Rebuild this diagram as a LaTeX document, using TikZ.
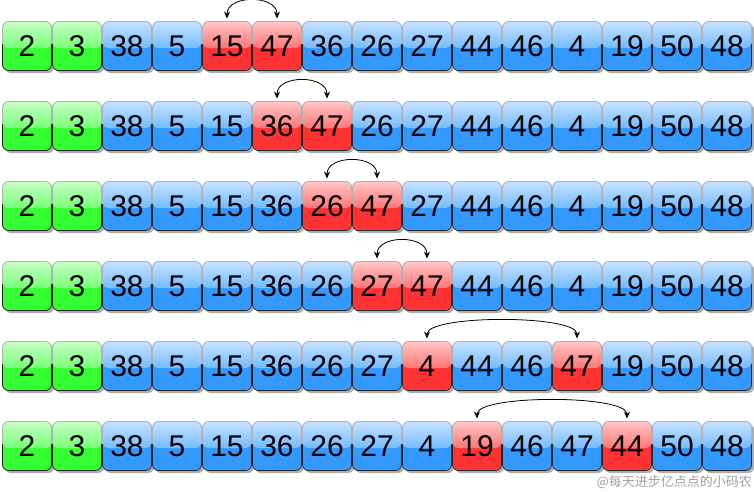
\documentclass[tikz,border=0pt]{standalone}
\usepackage{fontspec}
\setmainfont{Liberation Sans}
\newfontfamily\cjk{Noto Sans CJK SC}
\usetikzlibrary{shadows,arrows.meta,calc}
\definecolor{cg}{RGB}{51,255,51}
\definecolor{cb}{RGB}{51,153,255}
\definecolor{cr}{RGB}{255,51,51}
\tikzset{
  cell/.style={draw=black!30, line width=0.8pt, rounded corners=6pt,
    minimum width=49pt, minimum height=49pt, inner sep=0pt, outer sep=0pt,
    font=\fontsize{30}{30}\selectfont,
    drop shadow={shadow xshift=2.5pt, shadow yshift=-2.5pt, fill=black!40, opacity=0.8}},
  glossy/.style={fill=#1, path picture={\shade[top color=#1!28!white, bottom color=#1]
    (path picture bounding box.north west) rectangle ($(path picture bounding box.east)+(0,2)$);}},
  darkedge/.style={draw=black!85, line width=0.8pt, rounded corners=6pt},
  swaparrow/.style={{Stealth[length=7pt,width=6pt]}-{Stealth[length=7pt,width=6pt]},
    line width=0.8pt, shorten <=3pt, shorten >=3pt},
}
\begin{document}
\begin{tikzpicture}[x=1pt,y=-1pt]
\useasboundingbox (0,0) rectangle (754,491);
\foreach \r/\vals/\ra/\rb in {
  1/{2,3,38,5,15,47,36,26,27,44,46,4,19,50,48}/5/6,
  2/{2,3,38,5,15,36,47,26,27,44,46,4,19,50,48}/6/7,
  3/{2,3,38,5,15,36,26,47,27,44,46,4,19,50,48}/7/8,
  4/{2,3,38,5,15,36,26,27,47,44,46,4,19,50,48}/8/9,
  5/{2,3,38,5,15,36,26,27,4,44,46,47,19,50,48}/9/12,
  6/{2,3,38,5,15,36,26,27,4,19,46,47,44,50,48}/10/13}{
  \foreach \v [count=\c] in \vals {
    \def\col{cb}
    \ifnum\c<3 \def\col{cg}\fi
    \ifnum\c=\ra \def\col{cr}\fi
    \ifnum\c=\rb \def\col{cr}\fi
    \node[cell, glossy=\col] (r\r c\c) at ({27+50*(\c-1)},{46+80*(\r-1)}) {\v};
    \begin{scope}
      \clip ($(r\r c\c.west)+(-2,-2)$) rectangle ($(r\r c\c.south east)+(2,2)$);
      \draw[darkedge] (r\r c\c.north west) rectangle (r\r c\c.south east);
    \end{scope}
  }
  \draw[swaparrow] (r\r c\ra.north) .. controls +(0,-27) and +(0,-27) .. (r\r c\rb.north);
}
\node[anchor=south east, inner sep=0pt, text=black!38, font=\cjk\fontsize{13}{13}\selectfont] (wm) at (752,489) {@每天进步亿点点的小码农};
\end{tikzpicture}
\end{document}
